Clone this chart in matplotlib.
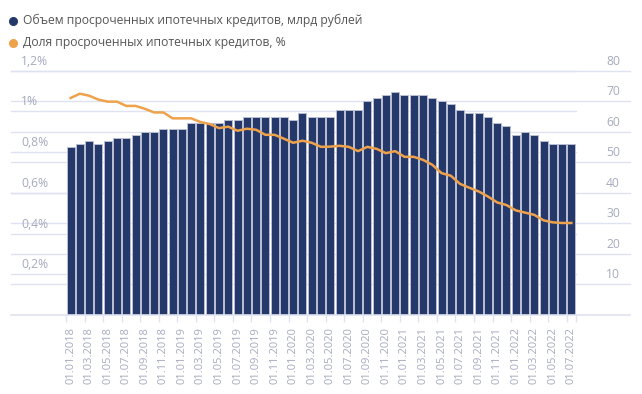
import matplotlib
matplotlib.use("Agg")
import matplotlib.pyplot as plt
import matplotlib.transforms as mtransforms
from matplotlib.lines import Line2D
import pandas as pd

plt.rcParams['font.family'] = ['Open Sans', 'DejaVu Sans']

# monthly dates, 01.01.2018 - 01.07.2022
dates = pd.date_range('2018-01-01', '2022-07-01', freq='MS').strftime('%d.%m.%Y').tolist()

# overdue mortgage volume, bn rubles (right scale)
volume = [55, 56, 57, 56, 57, 58, 58, 59, 60, 60, 61, 61, 61, 63, 63, 63, 63, 64, 64, 65,
          65, 65, 65, 65, 64, 66, 65, 65, 65, 67, 67, 67, 70, 71, 72, 73, 72, 72, 72, 71,
          70, 69, 67, 66, 66, 65, 63, 62, 59, 60, 59, 57, 56, 56, 56]

# overdue share, % (left scale)
share = [1.066, 1.087, 1.077, 1.058, 1.048, 1.048, 1.027, 1.027, 1.013, 0.995, 0.995,
         0.966, 0.966, 0.966, 0.948, 0.938, 0.918, 0.925, 0.905, 0.915, 0.910, 0.885,
         0.885, 0.866, 0.846, 0.856, 0.846, 0.826, 0.827, 0.831, 0.826, 0.805, 0.826,
         0.816, 0.795, 0.805, 0.777, 0.777, 0.762, 0.738, 0.697, 0.684, 0.644, 0.625,
         0.607, 0.582, 0.553, 0.540, 0.514, 0.503, 0.492, 0.465, 0.455, 0.452, 0.452]

left_ticks = [0.2, 0.4, 0.6, 0.8, 1.0, 1.2]
left_labels = ['0,2%', '0,4%', '0,6%', '0,8%', '1%', '1,2%']
right_ticks = [10, 20, 30, 40, 50, 60, 70, 80]

navy = '#25386a'
orange = '#eea24c'
grid_c = '#dfe2f0'
tick_c = '#a6aabd'

W, H = 642, 394
fig = plt.figure(figsize=(W / 100, H / 100), dpi=100)
ax = fig.add_axes([66 / W, 79 / H, 510 / W, 244.3 / H])
ax2 = ax.twinx()

x = list(range(len(dates)))
ax.bar(x, volume, width=0.86, color=navy, edgecolor='#b9bed3', linewidth=0.7, zorder=2)
ax2.plot(x, share, color=orange, lw=1.8, zorder=3)

ax.set_xlim(-0.5, len(dates) - 0.5)
ax.set_ylim(0, 80)
ax2.set_ylim(0, 1.2)

for a in (ax, ax2):
    for s in a.spines.values():
        s.set_visible(False)
    a.set_yticks([])

# gridlines that run past the plot area
tl = mtransforms.blended_transform_factory(fig.transFigure, ax2.transData)
tr = mtransforms.blended_transform_factory(fig.transFigure, ax.transData)
for v in left_ticks:
    ax.add_line(Line2D([11 / W, 576 / W], [v, v], transform=tl, color=grid_c, lw=1,
                       zorder=0, clip_on=False))
for v in right_ticks:
    ax.add_line(Line2D([11 / W, 630 / W], [v, v], transform=tr, color=grid_c, lw=1,
                       zorder=0, clip_on=False))
ax.add_line(Line2D([11 / W, 630 / W], [0, 0], transform=tr, color=grid_c, lw=1.2,
                   zorder=4, clip_on=False))

# axis labels sitting above their gridlines
up = mtransforms.ScaledTranslation(0, 3 / 100, fig.dpi_scale_trans)
for v, lab in zip(left_ticks, left_labels):
    fig.text(21 / W, v, lab, transform=tl + up, fontsize=8.7, color=tick_c,
             ha='left', va='bottom')
for v in right_ticks:
    fig.text(620 / W, v, str(v), transform=tr + up, fontsize=8.7, color=tick_c,
             ha='right', va='bottom')

# x axis: labels every two months, boundary ticks
ax.set_xticks(x[::2])
ax.set_xticklabels(dates[::2], rotation=90, fontsize=8, color=tick_c)
ax.set_xticks([i - 0.5 for i in x[::2]] + [len(dates) - 0.5], minor=True)
ax.tick_params(axis='x', which='major', length=0, pad=9)
ax.tick_params(axis='x', which='minor', length=5, color=grid_c, width=1)

# legend
items = [(navy, 'Объем просроченных ипотечных кредитов, млрд рублей'),
         (orange, 'Доля просроченных ипотечных кредитов, %')]
for i, (c, t) in enumerate(items):
    yy = 1 - (20.5 + 22 * i) / H
    fig.add_artist(Line2D([13 / W], [yy], marker='o', ms=5.5, color=c, lw=0,
                          transform=fig.transFigure))
    fig.text(23 / W, yy, t, fontsize=8.7, color='#555555', va='center', ha='left')

fig.savefig('out.png', dpi=100)
